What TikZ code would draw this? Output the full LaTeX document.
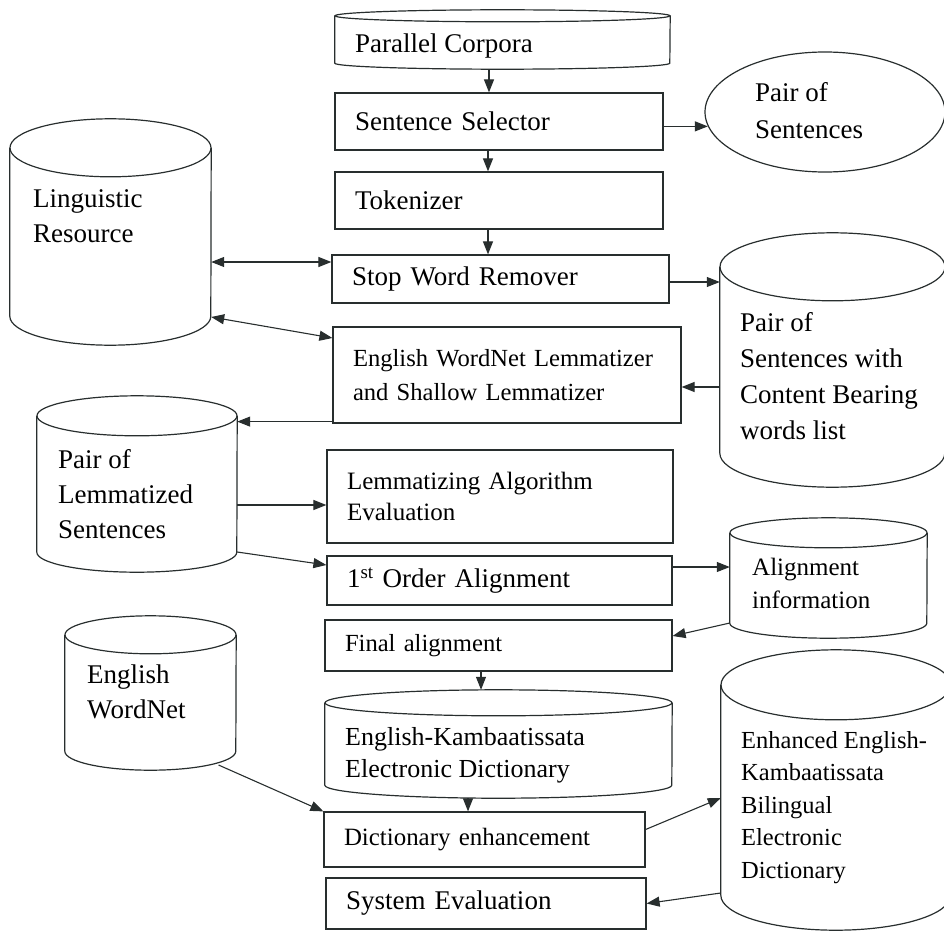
\documentclass[tikz,border=0pt]{standalone}
\usepackage{fontspec}
\setmainfont{Liberation Serif}
\usetikzlibrary{shapes,arrows.meta}
\definecolor{ink}{RGB}{40,46,46}
\tikzstyle{proc} = [rectangle, draw=ink, line width=1.2pt, inner xsep=20pt, inner ysep=0pt, align=left, font=\fontsize{27}{35}\selectfont]
\tikzstyle{store} = [rectangle, inner sep=0pt]
\tikzstyle{txt} = [anchor=north west, inner sep=0pt, align=left, font=\fontsize{27}{35}\selectfont]
\tikzstyle{line} = [draw=ink, line width=1.1pt, -{Triangle[length=13pt,width=10pt]}]
\tikzstyle{dline} = [draw=ink, line width=1.1pt, {Triangle[length=13pt,width=10pt]}-{Triangle[length=13pt,width=10pt]}]
% cylinder outline round a store node: name, x radius, y radius of the caps
\newcommand{\dbase}[3]{%
	\draw [ink, line width=1.2pt] ([yshift=-#3]#1.north west) -- ([yshift=#3]#1.south west)
		arc [start angle=180, end angle=360, x radius=#2, y radius=#3] -- ([yshift=-#3]#1.north east);
	\draw [ink, line width=1.2pt] ([yshift=-#3]#1.north) ellipse [x radius=#2, y radius=#3];
}

\begin{document}
\begin{tikzpicture}[x=1pt, y=-1pt]
	\useasboundingbox (0,0) rectangle (944,931);
	% data stores
	\node [store, minimum width=335pt, minimum height=59pt] (corpora) at (502.5,39.5) {};
	\node [txt, anchor=base west] (corporatxt) at (355,53) {Parallel Corpora};
	\node [store, minimum width=201pt, minimum height=226pt] (lingres) at (110.5,232) {};
	\node [txt] (lingrestxt) at (33,189) {Linguistic\\Resource};
	\node [store, minimum width=225pt, minimum height=254pt] (content) at (832.5,360) {};
	\node [txt, font=\fontsize{27}{36}\selectfont] (contenttxt) at (740,312) {Pair of\\Sentences with\\Content Bearing\\words list};
	\node [store, minimum width=200pt, minimum height=176pt] (lemsent) at (137,484) {};
	\node [txt] (lemsenttxt) at (58,449) {Pair of\\Lemmatized\\Sentences};
	\node [store, minimum width=197pt, minimum height=120pt] (aligninfo) at (828.5,578) {};
	\node [txt, font=\fontsize{25}{33}\selectfont] (aligninfotxt) at (752,558) {Alignment\\information};
	\node [store, minimum width=171pt, minimum height=154pt] (wordnet) at (150.5,693) {};
	\node [txt] (wordnettxt) at (87,665) {English\\WordNet};
	\node [store, minimum width=347pt, minimum height=108pt] (ekdict) at (498.5,744) {};
	\node [txt, font=\fontsize{26}{32}\selectfont] (ekdicttxt) at (345,727) {English-Kambaatissata\\Electronic Dictionary};
	\node [store, minimum width=230pt, minimum height=280pt] (enhanced) at (836,790) {};
	\node [txt, font=\fontsize{24.5}{32.5}\selectfont] (enhancedtxt) at (741,731) {Enhanced English-\\Kambaatissata\\Bilingual\\Electronic\\Dictionary};
	\node [ellipse, draw=ink, line width=1.2pt, minimum width=240pt, minimum height=120pt] (pairsent) at (825,112) {};
	\node [txt, font=\fontsize{27}{37}\selectfont] (pairsenttxt) at (755,82) {Pair of\\Sentences};
	
	\dbase{corpora}{167.5pt}{6pt}
	\dbase{lingres}{100.5pt}{29pt}
	\dbase{content}{112.5pt}{34pt}
	\dbase{lemsent}{100pt}{20pt}
	\dbase{aligninfo}{98.5pt}{15pt}
	\dbase{wordnet}{85.5pt}{19pt}
	\dbase{ekdict}{173.5pt}{13pt}
	\dbase{enhanced}{115pt}{35pt}
	
	% processing steps
	\node [proc, text width=288pt, minimum height=57pt] (selector) at (499,121.5) {Sentence Selector};
	\node [proc, text width=288pt, minimum height=57pt] (token) at (499,200.5) {Tokenizer};
	\node [proc, text width=297pt, minimum height=48pt] (stopw) at (500.5,279) {Stop Word Remover};
	\node [proc, text width=308pt, minimum height=96pt, font=\fontsize{24.6}{34}\selectfont] (lemma) at (507,375) {English WordNet Lemmatizer\\and Shallow Lemmatizer};
	\node [proc, text width=306pt, minimum height=93pt, font=\fontsize{25}{31}\selectfont] (lemeval) at (500,496.5) {Lemmatizing Algorithm\\Evaluation};
	\node [proc, text width=305pt, minimum height=49pt] (firstord) at (499.5,580.5) {1\textsuperscript{st} Order Alignment};
	\node [proc, text width=307pt, minimum height=51pt, font=\fontsize{24.6}{30}\selectfont] (finalal) at (498.5,645.5) {Final alignment};
	\node [proc, text width=281pt, minimum height=55pt, font=\fontsize{24.9}{30}\selectfont] (enhance) at (484.5,839.5) {Dictionary enhancement};
	\node [proc, text width=280pt, minimum height=51pt] (syseval) at (486,903.5) {System Evaluation};
	
	\path [line] ([xshift=-13.5pt]corpora.south) -- ([xshift=-10pt]selector.north);
	\path [line] (selector.east |- pairsent.187) -- (pairsent.187);
	\path [line] ([xshift=-11pt]selector.south) -- ([xshift=-11pt]token.north);
	\path [line] ([xshift=-11pt]token.south) -- ([xshift=-12.5pt]stopw.north);
	\path [dline] ([yshift=17pt]stopw.west -| lingres.east) -- ([yshift=17pt]stopw.west);
	\path [dline] ([yshift=-85pt]lingres.east) -- ([yshift=37pt]lemma.west);
	\path [line] ([yshift=-3pt]stopw.east) -- ([yshift=-3pt]stopw.east -| content.west);
	\path [line] ([yshift=-12pt]lemma.east -| content.west) -- ([yshift=-12pt]lemma.east);
	\path [line] ([yshift=2pt]lemma.south west) -- ([yshift=2pt]lemma.south west -| lemsent.east);
	\path [line] ([yshift=-8.5pt]lemeval.west -| lemsent.east) -- ([yshift=-8.5pt]lemeval.west);
	\path [line] ([yshift=-68pt]lemsent.east) -- ([yshift=15.5pt]firstord.west);
	\path [line] ([yshift=13.5pt]firstord.east) -- ([yshift=13.5pt]firstord.east -| aligninfo.west);
	\path [line] ([yshift=-45pt]aligninfo.west) -- ([yshift=9.5pt]finalal.east);
	\path [line] ([xshift=-17.5pt]finalal.south) -- ([xshift=-17.5pt]ekdict.north);
	\path [line] ([xshift=-30.5pt]ekdict.south) -- ([xshift=-16.5pt]enhance.north);
	\path [line] ([xshift=68pt, yshift=-72pt]wordnet.center) -- (enhance.north west);
	\path [line] ([yshift=10pt]enhance.east) -- ([yshift=-8pt]enhanced.west);
	\path [line] ([yshift=-103pt]enhanced.west) -- (syseval.east);
\end{tikzpicture}
\end{document}
